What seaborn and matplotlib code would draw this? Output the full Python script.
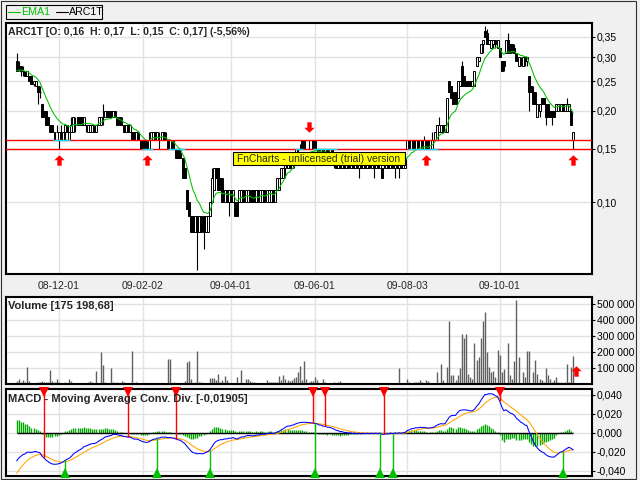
import numpy as np
import matplotlib
matplotlib.use("Agg")
import matplotlib.pyplot as plt
import seaborn as sns
from matplotlib.path import Path
from matplotlib.patches import Rectangle
from matplotlib.lines import Line2D
from matplotlib.ticker import FixedLocator, NullLocator

# ---------------- data ----------------
opens = [
    .29, .28, .28, .27, .27, .26, .26, .26, .245, .24,
    .24, .23, .21, .20, .20, .19, .18, .18, .16, .17,
    .16, .17, .16, .17, .18, .16, .17, .17, .18, .19,
    .19, .19, .18, .18, .17, .17, .17, .18, .17, .18,
    .18, .19, .19, .20, .20, .20, .19, .20, .19, .19,
    .18, .18, .17, .18, .17, .17, .17, .16, .17, .16,
    .16, .16, .16, .15, .16, .16, .17, .16, .16, .16,
    .17, .16, .16, .15, .16, .15, .15, .15, .145, .14,
    .13, .11, .10, .09, .09, .08, .09, .08, .09, .09,
    .08, .08, .09, .10, .11, .13, .13, .12, .12, .10,
    .11, .10, .11, .10, .10, .10, .10, .10, .11, .10,
    .10, .11, .11, .11, .10, .11, .10, .10, .11, .10,
    .10, .10, .11, .10, .11, .11, .12, .12, .13, .13,
    .14, .13, .14, .14, .15, .15, .16, .16, .15, .15,
    .15, .16, .16, .15, .15, .14, .15, .14, .15, .14,
    .15, .14, .14, .13, .14, .13, .14, .13, .14, .13,
    .14, .13, .14, .13, .14, .13, .14, .13, .14, .13,
    .14, .13, .14, .13, .13, .13, .13, .14, .13, .14,
    .13, .14, .13, .14, .13, .13, .15, .16, .15, .16,
    .15, .16, .15, .16, .15, .16, .16, .15, .15, .16,
    .16, .17, .17, .18, .17, .17, .25, .24, .23, .23,
    .22, .24, .28, .26, .25, .25, .25, .24, .24, .28,
    .29, .31, .33, .365, .36, .33, .32, .33, .34, .32,
    .32, .29, .29, .31, .34, .33, .33, .32, .31, .28,
    .29, .28, .30, .29, .26, .24, .23, .23, .19, .20,
    .22, .22, .21, .21, .20, .20, .20, .20, .20, .20,
    .21, .20, .20, .20, .20, .16,
]
highs = [
    .31, .29, .28, .28, .27, .27, .26, .26, .25, .25,
    .24, .24, .21, .20, .20, .19, .18, .18, .17, .18,
    .17, .18, .17, .18, .18, .17, .19, .19, .19, .19,
    .19, .19, .19, .18, .18, .18, .18, .18, .18, .19,
    .19, .21, .20, .20, .20, .20, .20, .20, .19, .19,
    .19, .18, .18, .18, .18, .17, .17, .17, .17, .16,
    .16, .16, .16, .17, .17, .17, .17, .17, .17, .17,
    .17, .17, .16, .16, .16, .16, .15, .15, .15, .14,
    .13, .11, .10, .09, .09, .09, .09, .09, .09, .09,
    .09, .09, .10, .13, .13, .13, .13, .12, .12, .11,
    .11, .11, .11, .11, .10, .10, .11, .11, .11, .11,
    .11, .11, .11, .11, .11, .11, .11, .11, .11, .11,
    .11, .11, .11, .11, .12, .12, .13, .13, .14, .14,
    .14, .14, .14, .15, .15, .155, .16, .16, .15, .16,
    .15, .16, .16, .15, .15, .15, .15, .15, .15, .15,
    .15, .14, .14, .14, .14, .14, .14, .14, .14, .14,
    .14, .14, .14, .14, .14, .14, .14, .14, .14, .14,
    .14, .14, .14, .14, .13, .14, .14, .14, .14, .14,
    .14, .14, .14, .14, .14, .14, .16, .16, .16, .16,
    .16, .16, .16, .16, .165, .16, .16, .16, .17, .17,
    .18, .19, .18, .18, .18, .22, .25, .24, .23, .23,
    .25, .25, .29, .26, .25, .25, .25, .25, .27, .30,
    .30, .33, .34, .38, .37, .34, .34, .34, .34, .34,
    .32, .29, .29, .34, .36, .33, .33, .33, .31, .30,
    .30, .30, .30, .30, .26, .24, .24, .23, .21, .21,
    .22, .22, .21, .21, .20, .20, .20, .21, .21, .21,
    .21, .21, .22, .21, .20, .17,
]
lows = [
    .27, .27, .26, .26, .26, .26, .25, .245, .24, .24,
    .21, .22, .19, .19, .18, .18, .17, .17, .16, .17,
    .15, .16, .16, .16, .17, .16, .17, .17, .17, .18,
    .18, .18, .18, .17, .17, .17, .17, .17, .17, .18,
    .18, .18, .19, .19, .19, .19, .19, .19, .18, .18,
    .18, .17, .17, .17, .17, .16, .16, .16, .16, .15,
    .15, .15, .15, .15, .16, .16, .16, .16, .15, .16,
    .16, .16, .15, .15, .15, .15, .14, .14, .14, .12,
    .12, .095, .09, .08, .08, .08, .06, .08, .08, .07,
    .08, .08, .09, .10, .11, .12, .11, .11, .10, .10,
    .10, .09, .10, .10, .09, .09, .10, .10, .10, .10,
    .10, .10, .10, .10, .10, .10, .10, .10, .10, .10,
    .10, .10, .10, .10, .11, .11, .12, .12, .12, .13,
    .13, .13, .13, .14, .14, .15, .15, .15, .15, .15,
    .15, .15, .15, .14, .14, .14, .14, .14, .14, .14,
    .14, .13, .13, .13, .13, .13, .13, .13, .13, .13,
    .13, .13, .13, .12, .13, .13, .13, .13, .13, .13,
    .12, .13, .13, .13, .12, .13, .13, .13, .13, .13,
    .12, .13, .12, .13, .13, .13, .15, .15, .15, .15,
    .15, .15, .15, .15, .15, .15, .15, .15, .15, .16,
    .16, .17, .17, .17, .17, .17, .23, .22, .21, .21,
    .22, .24, .24, .24, .24, .24, .24, .24, .24, .28,
    .29, .31, .31, .35, .33, .33, .32, .32, .32, .32,
    .30, .27, .27, .31, .31, .31, .31, .31, .29, .28,
    .28, .28, .28, .28, .20, .23, .21, .21, .19, .19,
    .21, .21, .18, .19, .19, .18, .19, .20, .20, .20,
    .20, .20, .20, .20, .18, .15,
]
closes = [
    .27, .28, .27, .27, .26, .27, .25, .245, .25, .25,
    .23, .23, .19, .19, .18, .18, .17, .17, .17, .17,
    .17, .17, .17, .18, .17, .17, .18, .19, .18, .18,
    .18, .18, .19, .18, .18, .18, .18, .17, .18, .19,
    .19, .19, .20, .19, .19, .19, .20, .19, .18, .18,
    .18, .17, .18, .17, .18, .16, .16, .17, .16, .15,
    .15, .15, .15, .16, .17, .17, .16, .17, .16, .17,
    .16, .16, .15, .16, .15, .15, .14, .14, .14, .12,
    .12, .095, .09, .08, .08, .09, .08, .09, .08, .08,
    .09, .09, .10, .12, .13, .12, .11, .11, .10, .11,
    .10, .11, .10, .11, .09, .09, .11, .11, .10, .11,
    .11, .10, .10, .10, .11, .10, .11, .11, .10, .11,
    .11, .11, .10, .11, .12, .12, .13, .13, .14, .14,
    .13, .14, .14, .15, .15, .15, .15, .15, .15, .15,
    .15, .15, .15, .15, .14, .15, .14, .15, .14, .15,
    .14, .14, .13, .14, .13, .14, .13, .14, .13, .14,
    .13, .14, .13, .14, .13, .14, .13, .14, .13, .14,
    .13, .14, .13, .14, .12, .13, .14, .13, .14, .13,
    .14, .13, .14, .13, .14, .14, .16, .15, .16, .15,
    .16, .15, .16, .15, .16, .15, .15, .16, .16, .17,
    .18, .18, .18, .17, .18, .22, .23, .22, .21, .21,
    .25, .25, .24, .24, .24, .24, .24, .25, .27, .30,
    .30, .33, .34, .35, .33, .34, .34, .34, .33, .34,
    .30, .27, .28, .34, .31, .31, .32, .31, .29, .30,
    .29, .30, .29, .30, .23, .23, .21, .21, .21, .21,
    .21, .21, .19, .19, .19, .19, .19, .21, .21, .21,
    .20, .21, .21, .21, .18, .17,
]
volume_thousands = [
    17, 34, 11, 23, 11, 106, 20, 8, 0, 0,
    15, 11, 20, 15, 11, 11, 85, 20, 15, 30,
    11, 0, 8, 11, 0, 34, 20, 0, 8, 0,
    8, 8, 0, 8, 11, 20, 11, 0, 79, 0,
    197, 121, 11, 8, 0, 98, 11, 0, 15, 8,
    20, 11, 0, 0, 8, 203, 0, 15, 0, 8,
    8, 8, 0, 0, 0, 0, 0, 0, 0, 0,
    0, 0, 158, 158, 0, 15, 0, 0, 8, 8,
    20, 135, 141, 34, 0, 15, 203, 15, 11, 8,
    8, 0, 40, 36, 36, 23, 65, 11, 23, 49,
    23, 8, 8, 8, 0, 45, 8, 85, 8, 34,
    34, 17, 11, 11, 0, 0, 8, 8, 8, 23,
    11, 11, 11, 11, 13, 47, 23, 59, 34, 23,
    17, 23, 36, 45, 73, 114, 23, 141, 34, 13,
    17, 20, 45, 23, 0, 0, 34, 15, 0, 8,
    0, 11, 8, 11, 20, 8, 0, 0, 0, 0,
    0, 0, 0, 5, 0, 0, 5, 0, 0, 0,
    5, 5, 0, 5, 0, 5, 0, 0, 0, 0,
    5, 0, 102, 0, 0, 0, 31, 15, 8, 15,
    11, 11, 23, 15, 8, 23, 20, 0, 0, 8,
    73, 0, 127, 23, 0, 108, 394, 59, 59, 23,
    55, 102, 315, 289, 315, 61, 44, 30, 259, 152,
    169, 289, 394, 450, 202, 107, 73, 84, 44, 214,
    183, 77, 95, 0, 259, 55, 30, 141, 525, 169,
    0, 77, 44, 208, 208, 0, 73, 148, 65, 30,
    23, 15, 102, 55, 34, 11, 23, 45, 11, 11,
    0, 15, 127, 11, 108, 175.2,
]

# indicator settings / initial states
ema1_span, ema1_seed = 10, 0.27
macd_fast, fast_seed = 12, 0.27
macd_slow, slow_seed = 26, 0.302
macd_signal, signal_seed = 9, -0.046

date_tick_idx = [20, 60, 102, 142, 186, 230]
date_tick_labels = ["08-12-01", "09-02-02", "09-04-01", "09-06-01", "09-08-03", "09-10-01"]
price_ticks = [0.10, 0.15, 0.20, 0.25, 0.30, 0.35]
price_tick_labels = ["0,10", "0,15", "0,20", "0,25", "0,30", "0,35"]
volume_ticks = [100000, 200000, 300000, 400000, 500000]
volume_tick_labels = ["100 000", "200 000", "300 000", "400 000", "500 000"]
macd_ticks = [-0.04, -0.02, 0.0, 0.02, 0.04]
macd_tick_labels = ["-0,040", "-0,020", "0,000", "0,020", "0,040"]
level_lines = [0.15, 0.16]
# stretches (bar index ranges) where price sits on a level line, marked in cyan
touch_level = [0.16, 0.15, 0.15, 0.15, 0.15, 0.15]
touch_start = [17.3, 59.7, 72.0, 132.5, 141.0, 186.3]
touch_end = [25.4, 64.9, 80.0, 136.3, 152.5, 200.6]
buy_arrow_idx = [20, 62, 195, 265]
sell_arrow_idx = [139]
macd_sell_idx = [13, 53, 76, 141, 147, 175, 230]
macd_buy_idx = [23, 67, 92, 142, 173, 179, 260]

# ---------------- computation ----------------
def ema(values, span, seed):
    a = 2.0 / (span + 1)
    out = np.empty(len(values))
    prev = seed
    for k, v in enumerate(values):
        prev = prev + a * (v - prev)
        out[k] = prev
    return out

o = np.array(opens); h = np.array(highs); l = np.array(lows); c = np.array(closes)
vol = np.array(volume_thousands) * 1000.0
N = len(c)
x = np.arange(N)
ema1 = ema(c, ema1_span, ema1_seed)
macd = ema(c, macd_fast, fast_seed) - ema(c, macd_slow, slow_seed)
sig = ema(macd, macd_signal, signal_seed)
hist = macd - sig

# ---------------- figure ----------------
sns.set_style("white")
plt.rcParams["font.family"] = ["Liberation Sans", "DejaVu Sans"]
W, H = 640, 480
fig = plt.figure(figsize=(6.4, 4.8), dpi=100, facecolor="#f0f0f0")

def px_axes(left, top, right, bottom):
    return fig.add_axes([left / W, 1 - bottom / H, (right - left) / W, (bottom - top) / H])

ax = px_axes(6, 23, 592, 274)
axv = px_axes(6, 297, 592, 384)
axm = px_axes(6, 389, 592, 476)

xlim = (-5.1, 274.0)
grid_c = "#e2e2e2"
for a in (ax, axv, axm):
    a.set_facecolor("white")
    a.set_xlim(*xlim)
    for s in a.spines.values():
        s.set_color("black")
        s.set_linewidth(1.5)
    a.xaxis.set_major_locator(FixedLocator(date_tick_idx))
    a.yaxis.tick_right()
    a.tick_params(axis="y", which="major", direction="out", length=2.4, width=0.8,
                  pad=1.2, labelsize=7.5, colors="black", right=True, left=False)
    a.grid(True, color=grid_c, linewidth=1.0)
    a.set_axisbelow(True)

# ---- price panel ----
ax.set_yscale("log")
ax.set_ylim(0.0581, 0.388)
ax.yaxis.set_major_locator(FixedLocator(price_ticks))
ax.yaxis.set_minor_locator(NullLocator())
ax.set_yticklabels(price_tick_labels)
ax.set_xticklabels(date_tick_labels)
ax.tick_params(axis="x", direction="out", length=2.4, width=0.8, pad=2.5, labelsize=7.5)

ax.vlines(x, l, h, color="black", linewidth=0.8, zorder=2)
up = c >= o
bottoms = np.minimum(o, c)
heights = np.abs(c - o)
ax.bar(x[up], heights[up], bottom=bottoms[up], width=0.95, color="white",
       edgecolor="black", linewidth=0.7, zorder=3)
ax.bar(x[~up], heights[~up], bottom=bottoms[~up], width=0.95, color="black",
       edgecolor="black", linewidth=0.7, zorder=3)
sns.lineplot(x=x, y=ema1, ax=ax, color="#00c000", linewidth=0.75, zorder=4, legend=False)
for lv in level_lines:
    ax.axhline(lv, color="#ff0000", linewidth=1.0, zorder=5)
for lv, s0, s1 in zip(touch_level, touch_start, touch_end):
    ax.hlines(lv, s0, s1, color="#00e0ff", linewidth=1.0, zorder=5.5)

up_arrow = Path([(0, 1), (1, 0.05), (0.42, 0.05), (0.42, -1), (-0.42, -1), (-0.42, 0.05),
                 (-1, 0.05), (0, 1)], closed=True)
down_arrow = Path([(0, -1), (1, -0.05), (0.42, -0.05), (0.42, 1), (-0.42, 1), (-0.42, -0.05),
                   (-1, -0.05), (0, -1)], closed=True)
ax.plot(buy_arrow_idx, [0.138] * len(buy_arrow_idx), linestyle="none", marker=up_arrow,
        markersize=7.5, color="#ff0000", markeredgewidth=0, zorder=6)
ax.plot(sell_arrow_idx, [0.1772] * len(sell_arrow_idx), linestyle="none", marker=down_arrow,
        markersize=7.5, color="#ff0000", markeredgewidth=0, zorder=6)

# ---- volume panel ----
axv.set_ylim(0, 543000)
axv.yaxis.set_major_locator(FixedLocator(volume_ticks))
axv.set_yticklabels(volume_tick_labels)
axv.tick_params(axis="x", bottom=False, labelbottom=False)
axv.vlines(x, 0, vol, color="#606060", linewidth=1.0, zorder=2)
axv.plot([266.3], [79000], linestyle="none", marker=up_arrow, markersize=7.5,
         color="#ff0000", markeredgewidth=0, zorder=6, clip_on=False)

# ---- MACD panel ----
axm.set_ylim(-0.0456, 0.046)
axm.yaxis.set_major_locator(FixedLocator(macd_ticks))
axm.set_yticklabels(macd_tick_labels)
axm.tick_params(axis="x", bottom=False, labelbottom=False)
axm.vlines(x, 0, hist, color="#00a800", linewidth=1.0, zorder=2)
axm.hlines(0, 0, N - 1, color="black", linewidth=1.0, zorder=3)
sns.lineplot(x=x, y=sig, ax=axm, color="#ffa500", linewidth=0.75, zorder=4, legend=False)
sns.lineplot(x=x, y=macd, ax=axm, color="#0000ff", linewidth=0.75, zorder=5, legend=False)
for i in macd_sell_idx:
    axm.vlines(i, macd[i], 0.046, color="#ff0000", linewidth=1.0, zorder=6)
axm.plot(macd_sell_idx, [0.0425] * len(macd_sell_idx), linestyle="none", marker="v",
         markersize=6.5, color="#ff0000", markeredgewidth=0, zorder=7, clip_on=False)
for i in macd_buy_idx:
    axm.vlines(i, -0.0456, macd[i], color="#00c000", linewidth=1.0, zorder=6)
axm.plot(macd_buy_idx, [-0.0425] * len(macd_buy_idx), linestyle="none", marker="^",
         markersize=6.5, color="#00c000", markeredgewidth=0, zorder=7, clip_on=False)
for a in (ax, axv, axm):
    a.set_xlim(*xlim)
    a.set_xlabel(""); a.set_ylabel("")

# ---- overlay (pixel coordinates) ----
ov = fig.add_axes([0, 0, 1, 1], zorder=20)
ov.set_xlim(0, W); ov.set_ylim(H, 0)
ov.axis("off")
ov.patch.set_visible(False)

ov.add_patch(Rectangle((0.5, 0.5), 635, 478.5, fill=False, edgecolor="#303030", linewidth=0.8))
# legend box
ov.add_patch(Rectangle((5.5, 4.5), 96.5, 14, fill=False, edgecolor="black", linewidth=0.8))
ov.add_line(Line2D([7.5, 19.5], [11.5, 11.5], color="#00c000", linewidth=0.8))
ov.text(21, 11.8, "EMA1", color="#00c000", fontsize=7.7, va="center", ha="left")
ov.add_line(Line2D([56, 67.5], [11.5, 11.5], color="black", linewidth=0.8))
ov.text(68.5, 11.8, "ARC1T", color="black", fontsize=7.7, va="center", ha="left")

ov.text(8, 32, "ARC1T [O: 0,16  H: 0,17  L: 0,15  C: 0,17] (-5,56%)", fontsize=7.6,
        fontweight="bold", va="center", ha="left")
ov.text(8, 306, "Volume [175 198,68]", fontsize=8.0, fontweight="bold", va="center", ha="left")
ov.text(8, 398.5, "MACD - Moving Average Conv. Div. [-0,01905]", fontsize=8.0,
        fontweight="bold", va="center", ha="left")

# trial watermark
ov.add_patch(Rectangle((233, 151.5), 172, 13.5, facecolor="#ffff00", edgecolor="black", linewidth=0.8))
ov.text(319, 158.5, "FnCharts - unlicensed (trial) version", fontsize=7.4, va="center", ha="center")

fig.savefig("out.png", dpi=100, facecolor=fig.get_facecolor())
